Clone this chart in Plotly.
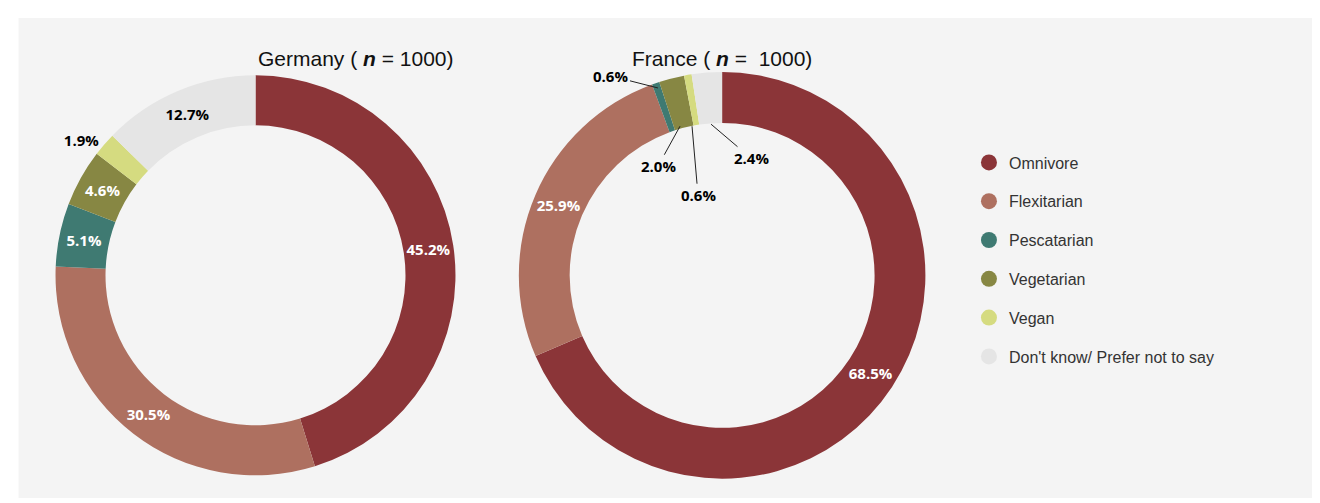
import plotly.graph_objects as go

categories = ["Omnivore", "Flexitarian", "Pescatarian", "Vegetarian", "Vegan", "Don't know/ Prefer not to say"]
germany = [45.2, 30.5, 5.1, 4.6, 1.9, 12.7]
france = [68.5, 25.9, 0.6, 2.0, 0.6, 2.4]
colors = ["#8B3538", "#AE7060", "#3F7A72", "#878743", "#D5DB80", "#E5E5E5"]

fig = go.Figure()
fig.add_shape(type="rect", xref="paper", yref="paper", x0=0.008, x1=0.989, y0=0.026, y1=0.98,
              fillcolor="#F4F4F4", line_width=0, layer="below")

def pie(vals, dom, pos, tcol):
    return go.Pie(labels=categories, values=vals, sort=False, direction="clockwise", rotation=0,
                  hole=0.75, marker=dict(colors=colors, line=dict(width=0)),
                  texttemplate="%{value:.1f}%", textposition=pos, insidetextorientation="horizontal",
                  textfont=dict(family="Open Sans", size=15, color=tcol),
                  outsidetextfont=dict(family="Open Sans", size=15, color="black"),
                  domain=dict(x=dom[0], y=dom[1]), showlegend=False, hoverinfo="label+percent")

fig.add_trace(pie(germany, ([0.036, 0.339], [0.07, 0.867]),
                  ["inside"] * 4 + ["outside", "inside"],
                  ["white"] * 4 + ["black", "black"]))
fig.add_trace(pie(france, ([0.387, 0.695], [0.064, 0.873]),
                  ["inside", "inside", "none", "none", "none", "none"],
                  ["white", "white"] + ["black"] * 4))
fig.update_traces(selector=dict(type="pie"), textfont_weight="bold")

# France small-slice labels with leader lines
heads = [(0.4924, 0.841, -47, -12), (0.5091, 0.765, -22, 40), (0.5182, 0.765, 6, 69), (0.5326, 0.769, 40, 34)]
for v, (hx, hy, ax, ay) in zip(france[2:], heads):
    fig.add_annotation(x=hx, y=hy, xref="paper", yref="paper", ax=ax, ay=ay, text=f"<b>{v:.1f}%</b>",
                       showarrow=True, arrowhead=0, arrowwidth=1, arrowcolor="#222",
                       font=dict(family="Open Sans", size=15, color="black"))

for c, col in zip(categories, colors):
    fig.add_trace(go.Scatter(x=[None], y=[None], mode="markers", name=c, legendgroup=c,
                             marker=dict(symbol="circle", size=20, color=col)))

for x, t in [(0.188, "Germany ( <b><i>n</i></b> = 1000)"), (0.541, "France ( <b><i>n</i></b> =  1000)")]:
    fig.add_annotation(x=x, y=0.926, xref="paper", yref="paper", text=t, showarrow=False,
                       font=dict(family="Liberation Sans", size=21, color="#111"))

fig.update_layout(width=1320, height=503, margin=dict(l=0, r=0, t=0, b=0, autoexpand=False),
                  paper_bgcolor="white", plot_bgcolor="rgba(0,0,0,0)",
                  xaxis=dict(visible=False), yaxis=dict(visible=False),
                  legend=dict(x=0.728, y=0.5, yanchor="middle", tracegroupgap=15,
                              font=dict(family="Liberation Sans", size=16, color="#333"),
                              bgcolor="rgba(0,0,0,0)"))
fig.write_html("out.html")
